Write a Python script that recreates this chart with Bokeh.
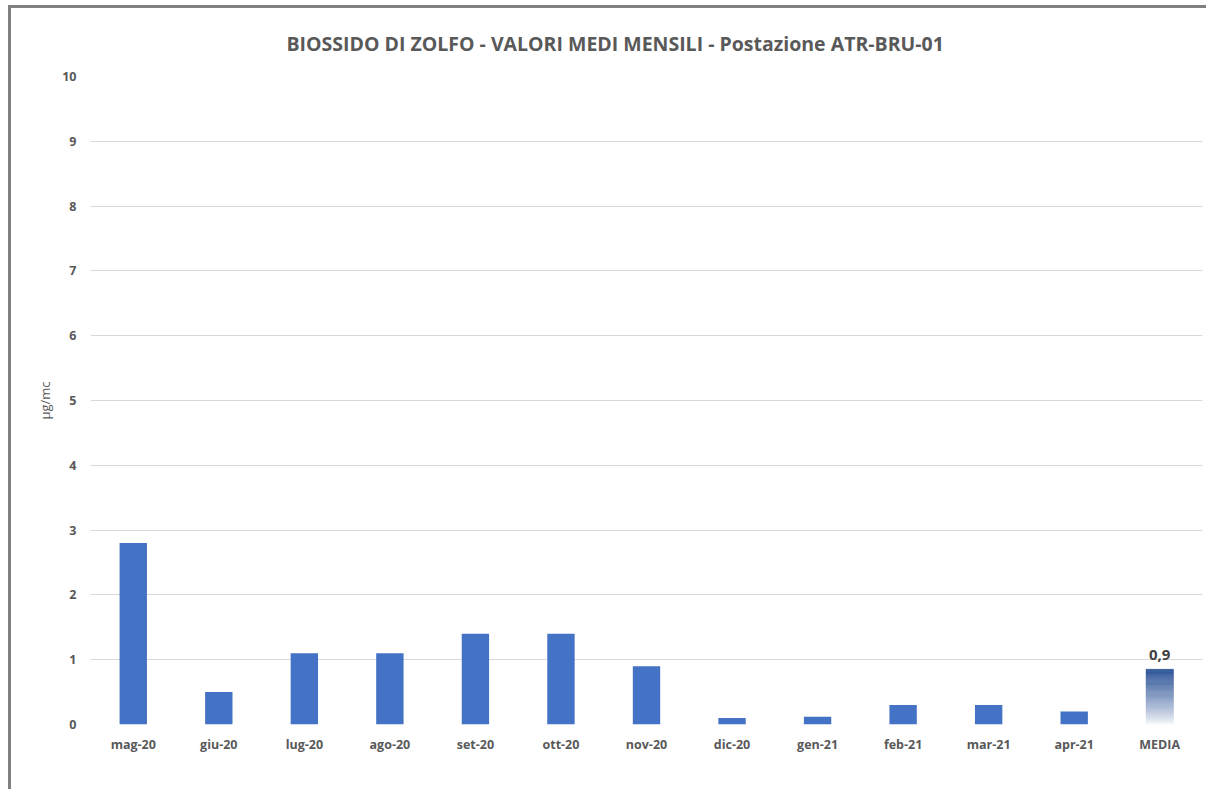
from bokeh.plotting import figure
from bokeh.models import FactorRange, Range1d, FixedTicker, Label
from bokeh.embed import file_html
from bokeh.resources import INLINE

# Monthly average SO2 concentrations (µg/mc)
months = ["mag-20", "giu-20", "lug-20", "ago-20", "set-20", "ott-20", "nov-20",
          "dic-20", "gen-21", "feb-21", "mar-21", "apr-21"]
monthly_values = [2.8, 0.5, 1.1, 1.1, 1.4, 1.4, 0.9, 0.1, 0.12, 0.3, 0.3, 0.2]
media_label = "MEDIA"
media_value = sum(monthly_values) / len(monthly_values)
categories = months + [media_label]
y_ticks = list(range(0, 11))

FONT = "Open Sans"
GREY = "#595959"

p = figure(
    x_range=FactorRange(*categories, range_padding=0),
    y_range=Range1d(0, 10),
    width=1201, height=787,
    output_backend="svg", toolbar_location=None,
    min_border_left=79, min_border_right=10,
    min_border_top=68, min_border_bottom=71,
    outline_line_color=None,
    background_fill_color="white", border_fill_color="white",
)
p.margin = (5, 0, 0, 8)
# chart-area frame: only the left and top edges stay visible
p.styles = {"border": "3px solid #808080", "clip-path": "inset(0px 3px 3px 0px)"}

p.title.text = "BIOSSIDO DI ZOLFO - VALORI MEDI MENSILI - Postazione  ATR-BRU-01"
p.title.align = "left"
p.title.offset = 196
p.title.standoff = 39
p.title.text_font = FONT
p.title.text_font_size = "19.5px"
p.title.text_font_style = "bold"
p.title.text_color = GREY

# monthly bars
p.vbar(x=months, top=monthly_values, width=0.32, fill_color="#4472C4", line_color=None)

# average bar drawn as a vertical gradient: dark blue at the top fading to white
n_steps = 60
top_rgb = (0x2E, 0x55, 0x98)
bot_rgb = (0xFF, 0xFF, 0xFF)
bottoms, tops, colors = [], [], []
for i in range(n_steps):
    b = media_value * i / n_steps
    t = media_value * (i + 1) / n_steps
    f = ((i + 0.5) / n_steps) ** 0.8
    rgb = tuple(int(round(bot_rgb[k] + (top_rgb[k] - bot_rgb[k]) * f)) for k in range(3))
    bottoms.append(b)
    tops.append(t)
    colors.append("#%02x%02x%02x" % rgb)
p.vbar(x=[media_label] * n_steps, bottom=bottoms, top=tops, width=0.32,
       fill_color=colors, line_color=colors, line_width=0.5)

p.add_layout(Label(x=12.5, y=media_value, text=f"{media_value:.1f}".replace(".", ","),
                   text_align="center", text_baseline="bottom", y_offset=9,
                   text_font=FONT, text_font_size="15px", text_font_style="bold",
                   text_color="#404040"))

# axes
p.xgrid.grid_line_color = None
p.ygrid.grid_line_color = "#d9d9d9"
p.ygrid.grid_line_width = 1

p.yaxis.ticker = FixedTicker(ticks=y_ticks)
p.yaxis.axis_line_color = None
p.yaxis.major_tick_line_color = None
p.yaxis.minor_tick_line_color = None
p.yaxis.major_label_standoff = 8
p.yaxis.major_label_text_font = FONT
p.yaxis.major_label_text_font_size = "12.5px"
p.yaxis.major_label_text_font_style = "bold"
p.yaxis.major_label_text_color = GREY
p.yaxis.axis_label = "µg/mc"
p.yaxis.axis_label_text_font = FONT
p.yaxis.axis_label_text_font_size = "13px"
p.yaxis.axis_label_text_font_style = "normal"
p.yaxis.axis_label_text_color = GREY
p.yaxis.axis_label_standoff = 5

p.xaxis.axis_line_color = None
p.xaxis.major_tick_line_color = None
p.xaxis.minor_tick_line_color = None
p.xaxis.major_label_standoff = 5
p.xaxis.major_label_text_font = FONT
p.xaxis.major_label_text_font_size = "12.5px"
p.xaxis.major_label_text_font_style = "bold"
p.xaxis.major_label_text_color = GREY

open("out.html", "w").write(file_html(p, INLINE))
